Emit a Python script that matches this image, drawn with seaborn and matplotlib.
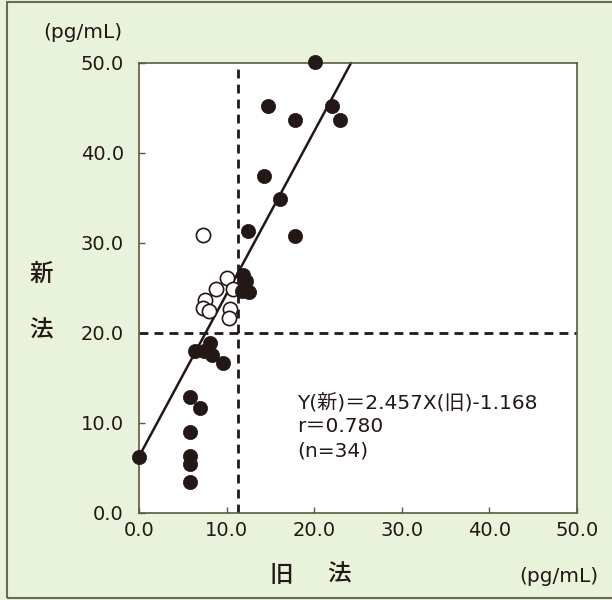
import matplotlib
matplotlib.use("Agg")
import matplotlib.pyplot as plt
import seaborn as sns
import pandas as pd
from matplotlib.patches import Rectangle

# --- data ---
filled_x = [20.05, 14.73, 22.0, 17.77, 23.0, 14.24, 16.06, 12.45, 17.77,
            11.9, 12.2, 11.8, 12.5,
            6.38, 7.40, 8.09, 8.28, 9.6,
            5.81, 6.95, 5.81, 5.81, 5.81, 5.81,
            0.0]
filled_y = [50.1, 45.2, 45.2, 43.7, 43.7, 37.4, 34.9, 31.3, 30.8,
            26.4, 25.8, 24.7, 24.6,
            18.0, 18.0, 18.9, 17.6, 16.7,
            12.9, 11.7, 9.0, 6.35, 5.5, 3.5,
            6.27]
open_x = [7.25, 9.99, 8.77, 10.74, 7.48, 7.32, 8.0, 10.44, 10.22]
open_y = [30.9, 26.1, 24.9, 24.9, 23.7, 22.8, 22.4, 22.7, 21.7]

line_x = [0.0, 24.2]
line_y = [6.27, 50.0]

cut_x = 11.3
cut_y = 20.0

ticks = [0, 10, 20, 30, 40, 50]
tick_labels = ["0.0", "10.0", "20.0", "30.0", "40.0", "50.0"]

eq_lines = ["Y(新)＝2.457X(旧)-1.168", "r＝0.780", "(n=34)"]

# --- style ---
sns.set_style("white")
plt.rcParams['font.family'] = ['DejaVu Sans', 'Noto Sans CJK JP']

BG = "#e9f2db"
INK = "#231815"
SPINE = "#5b5a40"
CJK = ['Noto Sans CJK JP', 'DejaVu Sans']

fig = plt.figure(figsize=(6.12, 6.0), dpi=100, facecolor=BG)
ax = fig.add_axes([139/612, 87/600, 438/612, 450/600])
ax.set_facecolor("white")

df_f = pd.DataFrame({"x": filled_x, "y": filled_y})
df_o = pd.DataFrame({"x": open_x, "y": open_y})

# dashed cut-off lines
ax.plot([cut_x, cut_x], [0, 50], ls=(0, (3.2, 2.2)), color=INK, lw=2.0, zorder=2)
ax.plot([0, 50], [cut_y, cut_y], ls=(0, (3.2, 2.2)), color=INK, lw=2.0, zorder=2)

# regression line
sns.lineplot(x=line_x, y=line_y, ax=ax, color=INK, lw=1.8, zorder=3,
             clip_on=False)

sns.scatterplot(data=df_o, x="x", y="y", ax=ax, s=105, facecolor="white",
                edgecolor=INK, linewidth=1.2, zorder=4, clip_on=False)
sns.scatterplot(data=df_f, x="x", y="y", ax=ax, s=105, color=INK,
                edgecolor=INK, linewidth=0.5, zorder=5, clip_on=False)

ax.set_xlim(0, 50)
ax.set_ylim(0, 50)
ax.set_xticks(ticks)
ax.set_yticks(ticks)
ax.set_xticklabels(tick_labels)
ax.set_yticklabels(tick_labels)
ax.tick_params(axis="both", direction="in", length=4, width=1, color=SPINE,
               labelsize=14, labelcolor=INK, bottom=True, left=True)
ax.tick_params(axis="x", pad=6)
ax.tick_params(axis="y", pad=11)
ax.set_xlabel("")
ax.set_ylabel("")
for sp in ax.spines.values():
    sp.set_color(SPINE)
    sp.set_linewidth(1.2)
    sp.set_zorder(3)

# equation text
ys = [12.25, 9.6, 6.9]
for t, yy in zip(eq_lines, ys):
    ax.text(18.1, yy, t, fontsize=14.5, color=INK, va="center", ha="left")

# axis labels and units
fig.text(281/612, 1 - 575/600, "旧", fontsize=17, color=INK, family=CJK,
         weight="medium", va="center", ha="center")
fig.text(339/612, 1 - 575/600, "法", fontsize=17, color=INK, family=CJK,
         weight="medium", va="center", ha="center")
fig.text(41/612, 1 - 274/600, "新", fontsize=17, color=INK, family=CJK,
         weight="medium", va="center", ha="center")
fig.text(41/612, 1 - 331/600, "法", fontsize=17, color=INK, family=CJK,
         weight="medium", va="center", ha="center")
fig.text(43/612, 1 - 32/600, "(pg/mL)", fontsize=14.5, color=INK, va="center", ha="left")
fig.text(598/612, 1 - 576/600, "(pg/mL)", fontsize=14.5, color=INK, va="center", ha="right")

# outer frame
fig.patches.append(Rectangle((7/612, 2/600), 1.0, 596/600, transform=fig.transFigure,
                             fill=False, edgecolor="#6b6a55", lw=1.5))

fig.savefig("out.png", dpi=100, facecolor=BG)
